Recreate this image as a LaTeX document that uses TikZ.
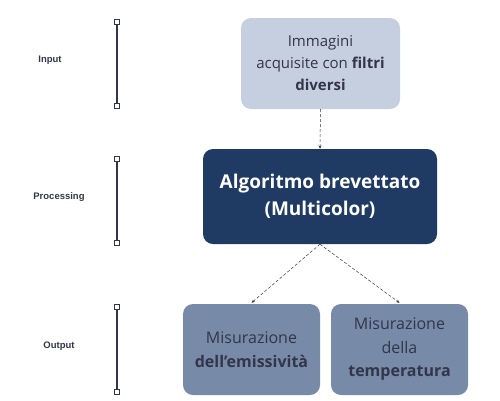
\documentclass[tikz,border=0pt]{standalone}
\usepackage{fontspec}
\setmainfont{Open Sans}
\newfontfamily\phasefont{Liberation Sans}
\usetikzlibrary{arrows.meta}

\definecolor{inkgrey}{HTML}{33364A}
\definecolor{palebox}{HTML}{C5CFDF}
\definecolor{navybox}{HTML}{1F3A63}
\definecolor{slatebox}{HTML}{778AA8}

\tikzset{
  phase/.style={font=\phasefont\bfseries\fontsize{9.5}{11}\selectfont, text=inkgrey},
  endsq/.style={draw=inkgrey, fill=white, line width=1.1pt, inner sep=0pt, minimum size=5.5pt},
  bar/.style={draw=inkgrey, line width=1.6pt},
  stepbox/.style={rounded corners=10pt, align=center, inner sep=0pt},
  flow/.style={draw=inkgrey, densely dashed, line width=0.5pt, -{Stealth[length=3.5pt,width=3pt]}},
}

\begin{document}
\begin{tikzpicture}[x=1pt, y=-1pt]
  \useasboundingbox (0,0) rectangle (500,400);

  % phase labels and bars
  \node[phase] (input) at (50,60) {Input};
  \node[phase] (processing) at (59,197) {Processing};
  \node[phase] (output) at (59,346) {Output};

  \foreach \name/\top/\bot in {in/22/106, proc/159/243, out/307/392} {
    \node[endsq] (\name top) at (117,\top) {};
    \node[endsq] (\name bot) at (117,\bot) {};
    \draw[bar] (\name top) -- (\name bot);
  }

  % boxes
  \node[stepbox, fill=palebox, text=inkgrey, minimum width=159pt, minimum height=91pt,
        font=\fontsize{15}{22}\selectfont] (images) at (320.5,63.5)
        {Immagini\\acquisite con \textbf{filtri}\\\textbf{diversi}};
  \node[stepbox, fill=navybox, text=white, minimum width=234pt, minimum height=95pt,
        font=\bfseries\fontsize{19}{27}\selectfont] (algo) at (320,196.5)
        {Algoritmo brevettato\\(Multicolor)};
  \node[stepbox, fill=slatebox, text=inkgrey, minimum width=137pt, minimum height=91pt,
        font=\fontsize{16}{24}\selectfont] (emiss) at (251.5,349.5)
        {Misurazione\\\textbf{dell’emissività}};
  \node[stepbox, fill=slatebox, text=inkgrey, minimum width=137pt, minimum height=91pt,
        font=\fontsize{16}{23.5}\selectfont] (temp) at (399.5,349.5)
        {Misurazione\\della\\\textbf{temperatura}};

  % connectors
  \draw[flow] (images.south) -- (algo.north);
  \draw[flow] (algo.south) -- ([yshift=1pt]emiss.north);
  \draw[flow] (algo.south) -- ([yshift=1pt]temp.north);
\end{tikzpicture}
\end{document}
